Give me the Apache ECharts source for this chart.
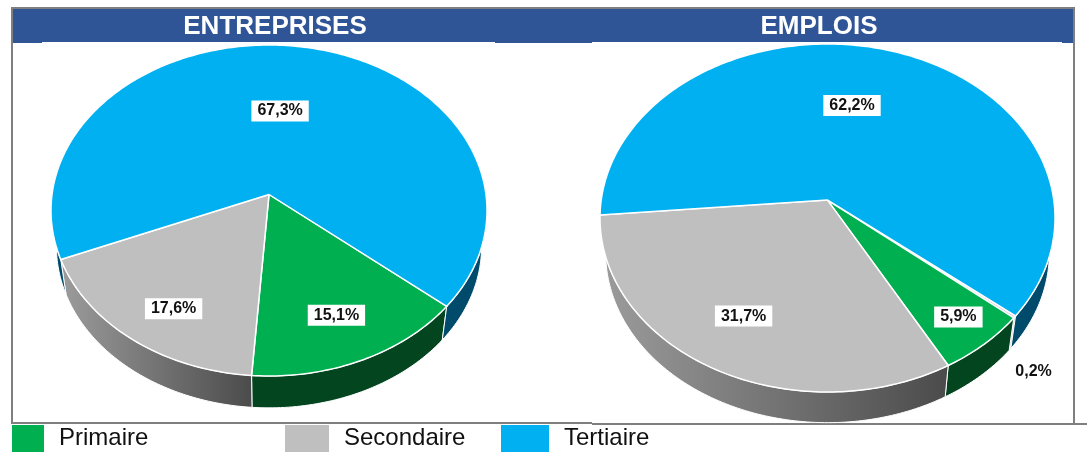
<!DOCTYPE html>
<html>
<head>
<meta charset="utf-8">
<style>
  html, body { margin: 0; padding: 0; background: #fff; }
  #chart { width: 1087px; height: 452px; }
</style>
<script src="https://cdn.jsdelivr.net/npm/echarts@6/dist/echarts.min.js"></script>
</head>
<body>
<div id="chart"></div>
<script>
// data, order = clockwise from the start angle of each pie
const categories = ['Autres', 'Primaire', 'Secondaire', 'Tertiaire'];
const panelTitles = ['ENTREPRISES', 'EMPLOIS'];
const entreprises = [0, 15.1, 17.6, 67.3];
const emplois = [0.2, 5.9, 31.7, 62.2];

const topColors = ['#d8c6e2', '#00b050', '#bfbfbf', '#00b0f0'];
const wallColors = ['#b9a8c4', '#03451f', null, '#004b6b'];

// a = perspective shift of the pie centre, s/d = shrink and drop of the lower rim
const pies = [
  { values: entreprises, cx: 269, cy: 210.5, rx: 218, ry: 165.5, a: -0.097, start: 129.8, s: 0.975, d: 36,
    labelR: [0, 0.742, 0.768, 0.545], labelTurn: [0, 0, -3.4, -3], titleX: 275 },
  { values: emplois, cx: 827.5, cy: 218, rx: 227.5, ry: 174, a: -0.103, start: 129, s: 0.975, d: 35,
    labelR: [1.22, 0.83, 0.715, 0.6], labelTurn: [8, -1, 1, -6], titleX: 819 }
];

function project(pie, deg, k) {
  const th = deg * Math.PI / 180;
  const u = k * Math.sin(th);
  const v = -k * Math.cos(th);
  const den = 1 + pie.a * v;
  return [
    pie.cx + pie.rx * u * Math.sqrt(1 - pie.a * pie.a) / den,
    pie.cy + pie.ry * (v + pie.a) / den
  ];
}

function lower(pie, p) {
  return [
    pie.cx + (p[0] - pie.cx) * pie.s,
    pie.cy + pie.d + (p[1] - pie.cy) * pie.s
  ];
}

function fmt(v) {
  return v.toFixed(1).replace('.', ',') + '%';
}

function renderSlice(catIdx, params, api) {
  const pie = pies[params.dataIndex];
  const value = api.value(0);
  if (!value) return null;
  let sum = 0;
  for (let i = 0; i < catIdx; i++) sum += pie.values[i];
  const a0 = pie.start + sum * 3.6;
  const a1 = a0 + value * 3.6;

  const arc = [];
  const steps = Math.max(2, Math.ceil(a1 - a0));
  for (let i = 0; i <= steps; i++) {
    arc.push(project(pie, a0 + (a1 - a0) * i / steps, 1));
  }
  const centre = project(pie, 0, 0);
  const wall = arc.concat(arc.map(p => lower(pie, p)).reverse());

  let wallFill = wallColors[catIdx];
  if (!wallFill) {
    wallFill = new echarts.graphic.LinearGradient(0, 0, 1, 0, [
      { offset: 0, color: '#9c9c9c' },
      { offset: 1, color: '#4b4b4b' }
    ]);
  }

  const mid = (a0 + a1) / 2 + pie.labelTurn[catIdx];
  const lp = project(pie, mid, pie.labelR[catIdx]);

  return {
    type: 'group',
    children: [
      {
        type: 'polygon',
        z2: 1,
        shape: { points: wall },
        style: { fill: wallFill, stroke: '#fff', lineWidth: 1 }
      },
      {
        type: 'polygon',
        z2: 2,
        shape: { points: [centre].concat(arc) },
        style: { fill: topColors[catIdx], stroke: '#fff', lineWidth: 1.5 }
      },
      {
        type: 'text',
        z2: 3,
        x: lp[0],
        y: lp[1] + 1,
        style: {
          text: fmt(value),
          align: 'center',
          verticalAlign: 'middle',
          fontFamily: 'Liberation Sans',
          fontWeight: 'bold',
          fontSize: 16,
          fill: '#111',
          backgroundColor: '#fff',
          padding: [3, 6, 2, 6]
        }
      }
    ]
  };
}

const series = categories.map((name, i) => ({
  type: 'custom',
  name: name,
  coordinateSystem: 'none',
  silent: true,
  animation: false,
  itemStyle: { color: topColors[i] },
  data: [[entreprises[i]], [emplois[i]]],
  renderItem: (params, api) => renderSlice(i, params, api)
}));

function legendAt(name, left, width) {
  return {
    data: [{ name: name, icon: 'rect' }],
    left: left,
    top: 425,
    padding: 0,
    selectedMode: false,
    itemWidth: width,
    itemHeight: 27,
    textStyle: {
      fontFamily: 'Liberation Sans',
      fontSize: 24,
      color: '#111',
      padding: [8, 0, 0, 10]
    }
  };
}

const frameColor = '#7f7f7f';
const barColor = '#2f5597';

function box(x, y, w, h, fill) {
  return { type: 'rect', shape: { x: x, y: y, width: w, height: h }, style: { fill: fill }, silent: true };
}

const chart = echarts.init(document.getElementById('chart'));
chart.setOption({
  backgroundColor: '#fff',
  animation: false,
  legend: [
    legendAt('Primaire', 12, 32),
    legendAt('Secondaire', 285, 44),
    legendAt('Tertiaire', 501, 48)
  ],
  graphic: [
    box(11, 7, 1064, 2, frameColor),
    box(11, 7, 2, 417, frameColor),
    box(1073, 7, 2, 417, frameColor),
    box(11, 422, 581, 2, frameColor),
    box(592, 423, 470, 2, frameColor),
    box(1062, 423, 25, 2, frameColor),
    box(13, 9, 1060, 33, barColor),
    box(13, 42, 29, 1, barColor),
    box(495, 42, 97, 1, barColor),
    box(1062, 42, 11, 1, barColor),
    {
      type: 'text',
      x: pies[0].titleX,
      y: 27,
      style: { text: panelTitles[0], align: 'center', verticalAlign: 'middle',
        fontFamily: 'Liberation Sans', fontWeight: 'bold', fontSize: 26, fill: '#fff' }
    },
    {
      type: 'text',
      x: pies[1].titleX,
      y: 27,
      style: { text: panelTitles[1], align: 'center', verticalAlign: 'middle',
        fontFamily: 'Liberation Sans', fontWeight: 'bold', fontSize: 26, fill: '#fff' }
    }
  ],
  series: series
});
</script>
</body>
</html>
